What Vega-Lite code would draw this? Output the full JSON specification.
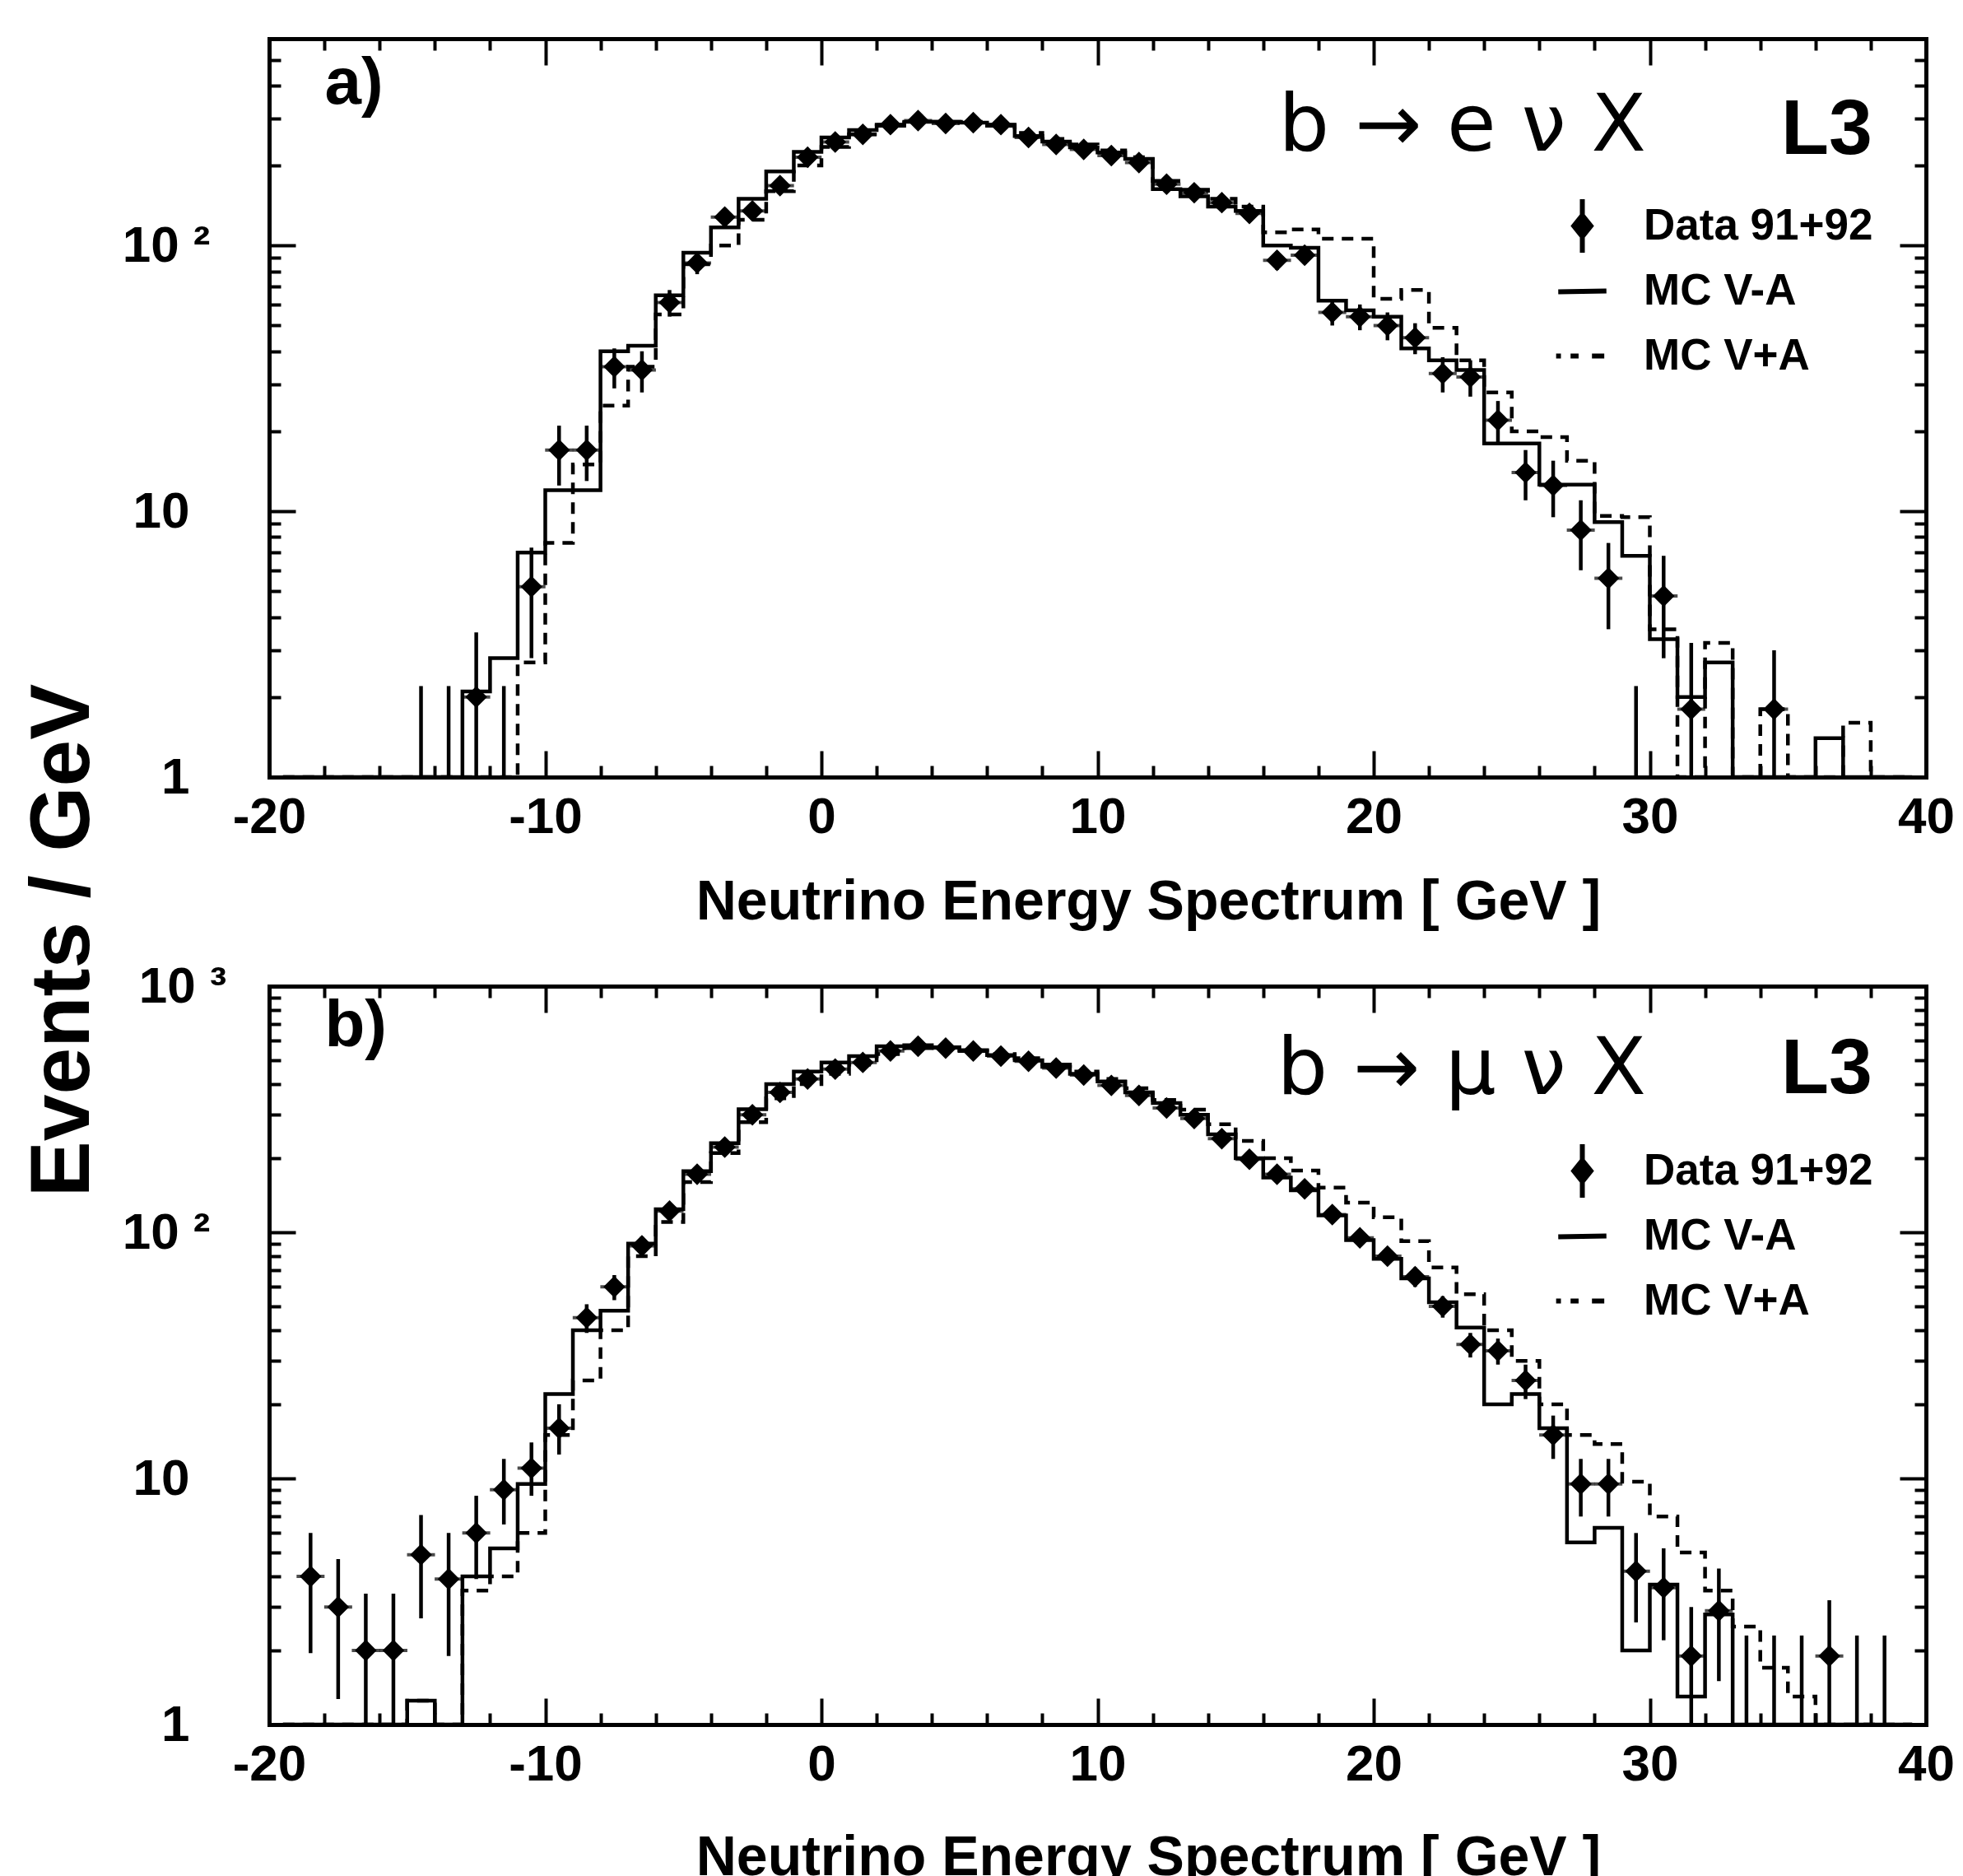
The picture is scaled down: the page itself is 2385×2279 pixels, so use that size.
{
  "$schema": "https://vega.github.io/schema/vega-lite/v6.json",
  "background": "white",
  "padding": {"left": 25, "top": 41, "right": 0, "bottom": 0},
  "bounds": "flush",
  "spacing": 254,
  "resolve": {"scale": {"shape": "independent"}, "legend": {"shape": "independent"}},
  "config": {
    "font": "Liberation Sans",
    "view": {"stroke": null},
    "axis": {
      "labelFont": "Liberation Sans", "labelFontWeight": "bold", "labelColor": "black", "labelFontSize": 62,
      "titleFont": "Liberation Sans", "titleFontWeight": "bold", "titleColor": "black",
      "domainColor": "black", "tickColor": "black", "grid": false,
      "labelOverlap": false, "labelBound": false, "labelFlush": false,
      "tickWidth": 4, "domainWidth": 5, "domainCap": "square"
    }
  },
  "datasets": {
    "leg": [{"s": "Data 91+92"}, {"s": "MC V-A"}, {"s": "MC V+A"}],
    "e": [
      {"E": -19.5, "va": 0.1, "vp": 0.1, "d": null, "dl": null, "dh": null},
      {"E": -18.5, "va": 0.1, "vp": 0.1, "d": null, "dl": null, "dh": null},
      {"E": -17.5, "va": 0.1, "vp": 0.1, "d": null, "dl": null, "dh": null},
      {"E": -16.5, "va": 0.1, "vp": 0.1, "d": null, "dl": null, "dh": null},
      {"E": -15.5, "va": 0.1, "vp": 0.1, "d": null, "dl": null, "dh": null},
      {"E": -14.5, "va": 0.1, "vp": 0.1, "d": 1, "dl": 0.1, "dh": 2.2},
      {"E": -13.5, "va": 0.1, "vp": 0.1, "d": 1, "dl": 0.1, "dh": 2.2},
      {"E": -12.5, "va": 2.1, "vp": 0.1, "d": 2.0, "dl": 0.1, "dh": 3.5},
      {"E": -11.5, "va": 2.8, "vp": 0.1, "d": 1, "dl": 0.1, "dh": 2.2},
      {"E": -10.5, "va": 7, "vp": 2.7, "d": 5.2, "dl": 2.8, "dh": 7.3},
      {"E": -9.5, "va": 12, "vp": 7.6, "d": 17, "dl": 12.5, "dh": 21},
      {"E": -8.5, "va": 12, "vp": 15, "d": 17, "dl": 13, "dh": 21},
      {"E": -7.5, "va": 40, "vp": 25, "d": 35, "dl": 29, "dh": 41},
      {"E": -6.5, "va": 42, "vp": 35, "d": 34, "dl": 28, "dh": 40},
      {"E": -5.5, "va": 65, "vp": 55, "d": 61, "dl": 54, "dh": 68},
      {"E": -4.5, "va": 94, "vp": 85, "d": 86, "dl": 78, "dh": 94},
      {"E": -3.5, "va": 117, "vp": 100, "d": 128, "dl": 118, "dh": 138},
      {"E": -2.5, "va": 150, "vp": 125, "d": 135, "dl": 125, "dh": 145},
      {"E": -1.5, "va": 190, "vp": 160, "d": 168, "dl": 158, "dh": 178},
      {"E": -0.5, "va": 225, "vp": 200, "d": 215, "dl": 204, "dh": 226},
      {"E": 0.5, "va": 255, "vp": 235, "d": 245, "dl": 234, "dh": 256},
      {"E": 1.5, "va": 272, "vp": 262, "d": 262, "dl": 251, "dh": 273},
      {"E": 2.5, "va": 285, "vp": 282, "d": 285, "dl": 273, "dh": 297},
      {"E": 3.5, "va": 292, "vp": 290, "d": 295, "dl": 283, "dh": 307},
      {"E": 4.5, "va": 292, "vp": 292, "d": 288, "dl": 276, "dh": 300},
      {"E": 5.5, "va": 290, "vp": 292, "d": 290, "dl": 278, "dh": 302},
      {"E": 6.5, "va": 285, "vp": 282, "d": 285, "dl": 273, "dh": 297},
      {"E": 7.5, "va": 258, "vp": 265, "d": 255, "dl": 244, "dh": 266},
      {"E": 8.5, "va": 246, "vp": 252, "d": 240, "dl": 229, "dh": 251},
      {"E": 9.5, "va": 234, "vp": 240, "d": 230, "dl": 219, "dh": 241},
      {"E": 10.5, "va": 224, "vp": 228, "d": 218, "dl": 207, "dh": 229},
      {"E": 11.5, "va": 212, "vp": 215, "d": 205, "dl": 195, "dh": 215},
      {"E": 12.5, "va": 163, "vp": 175, "d": 170, "dl": 161, "dh": 179},
      {"E": 13.5, "va": 153, "vp": 162, "d": 158, "dl": 149, "dh": 167},
      {"E": 14.5, "va": 140, "vp": 150, "d": 145, "dl": 137, "dh": 153},
      {"E": 15.5, "va": 135, "vp": 140, "d": 132, "dl": 124, "dh": 140},
      {"E": 16.5, "va": 100, "vp": 112, "d": 88, "dl": 81, "dh": 95},
      {"E": 17.5, "va": 98, "vp": 115, "d": 92, "dl": 85, "dh": 99},
      {"E": 18.5, "va": 62, "vp": 106, "d": 56, "dl": 50, "dh": 62},
      {"E": 19.5, "va": 57, "vp": 106, "d": 54, "dl": 48, "dh": 60},
      {"E": 20.5, "va": 54, "vp": 63, "d": 50, "dl": 44, "dh": 56},
      {"E": 21.5, "va": 41, "vp": 68, "d": 45, "dl": 39, "dh": 51},
      {"E": 22.5, "va": 37, "vp": 49, "d": 33, "dl": 28, "dh": 38},
      {"E": 23.5, "va": 34, "vp": 37, "d": 32, "dl": 27, "dh": 37},
      {"E": 24.5, "va": 18, "vp": 28, "d": 22, "dl": 18, "dh": 26},
      {"E": 25.5, "va": 18, "vp": 20, "d": 14, "dl": 11, "dh": 17},
      {"E": 26.5, "va": 12.6, "vp": 19, "d": 12.5, "dl": 9.5, "dh": 15.5},
      {"E": 27.5, "va": 12.6, "vp": 15.5, "d": 8.5, "dl": 6, "dh": 11},
      {"E": 28.5, "va": 9.1, "vp": 9.6, "d": 5.6, "dl": 3.6, "dh": 7.6},
      {"E": 29.5, "va": 6.8, "vp": 9.5, "d": 1, "dl": 0.1, "dh": 2.2},
      {"E": 30.5, "va": 3.3, "vp": 3.6, "d": 4.8, "dl": 2.8, "dh": 6.8},
      {"E": 31.5, "va": 2.0, "vp": 0.1, "d": 1.8, "dl": 0.5, "dh": 3.2},
      {"E": 32.5, "va": 2.7, "vp": 3.2, "d": null, "dl": null, "dh": null},
      {"E": 33.5, "va": 0.1, "vp": 0.1, "d": null, "dl": null, "dh": null},
      {"E": 34.5, "va": 0.1, "vp": 1.8, "d": 1.8, "dl": 0.5, "dh": 3.0},
      {"E": 35.5, "va": 0.1, "vp": 0.1, "d": null, "dl": null, "dh": null},
      {"E": 36.5, "va": 1.4, "vp": 0.1, "d": null, "dl": null, "dh": null},
      {"E": 37.5, "va": 0.1, "vp": 1.6, "d": null, "dl": null, "dh": null},
      {"E": 38.5, "va": 0.1, "vp": 0.1, "d": null, "dl": null, "dh": null},
      {"E": 39.5, "va": 0.1, "vp": 0.1, "d": null, "dl": null, "dh": null}
    ],
    "mu": [
      {"E": -19.5, "va": 0.1, "vp": 0.1, "d": null, "dl": null, "dh": null},
      {"E": -18.5, "va": 0.1, "vp": 0.1, "d": 4.0, "dl": 1.95, "dh": 6.0},
      {"E": -17.5, "va": 0.1, "vp": 0.1, "d": 3.0, "dl": 1.27, "dh": 4.7},
      {"E": -16.5, "va": 0.1, "vp": 0.1, "d": 2.0, "dl": 0.1, "dh": 3.4},
      {"E": -15.5, "va": 0.1, "vp": 0.1, "d": 2.0, "dl": 0.1, "dh": 3.4},
      {"E": -14.5, "va": 1.25, "vp": 1.25, "d": 4.9, "dl": 2.7, "dh": 7.1},
      {"E": -13.5, "va": 0.1, "vp": 0.1, "d": 3.9, "dl": 1.9, "dh": 6.0},
      {"E": -12.5, "va": 4.0, "vp": 3.5, "d": 6.0, "dl": 3.9, "dh": 8.5},
      {"E": -11.5, "va": 5.2, "vp": 4.0, "d": 9.0, "dl": 6.5, "dh": 12},
      {"E": -10.5, "va": 9.5, "vp": 6.0, "d": 11, "dl": 8.5, "dh": 14},
      {"E": -9.5, "va": 22, "vp": 15, "d": 16, "dl": 12.5, "dh": 20},
      {"E": -8.5, "va": 40, "vp": 25, "d": 45, "dl": 39, "dh": 51},
      {"E": -7.5, "va": 48, "vp": 40, "d": 60, "dl": 53, "dh": 67},
      {"E": -6.5, "va": 90, "vp": 80, "d": 88, "dl": 80, "dh": 96},
      {"E": -5.5, "va": 124, "vp": 110, "d": 122, "dl": 113, "dh": 131},
      {"E": -4.5, "va": 177, "vp": 160, "d": 172, "dl": 162, "dh": 182},
      {"E": -3.5, "va": 230, "vp": 210, "d": 222, "dl": 211, "dh": 233},
      {"E": -2.5, "va": 316, "vp": 280, "d": 300, "dl": 288, "dh": 312},
      {"E": -1.5, "va": 400, "vp": 350, "d": 370, "dl": 357, "dh": 383},
      {"E": -0.5, "va": 450, "vp": 400, "d": 420, "dl": 406, "dh": 434},
      {"E": 0.5, "va": 490, "vp": 440, "d": 460, "dl": 446, "dh": 474},
      {"E": 1.5, "va": 520, "vp": 480, "d": 490, "dl": 475, "dh": 505},
      {"E": 2.5, "va": 570, "vp": 530, "d": 545, "dl": 530, "dh": 560},
      {"E": 3.5, "va": 575, "vp": 560, "d": 570, "dl": 555, "dh": 585},
      {"E": 4.5, "va": 565, "vp": 565, "d": 560, "dl": 545, "dh": 575},
      {"E": 5.5, "va": 545, "vp": 550, "d": 545, "dl": 530, "dh": 560},
      {"E": 6.5, "va": 525, "vp": 530, "d": 520, "dl": 505, "dh": 535},
      {"E": 7.5, "va": 500, "vp": 510, "d": 495, "dl": 481, "dh": 509},
      {"E": 8.5, "va": 470, "vp": 480, "d": 465, "dl": 451, "dh": 479},
      {"E": 9.5, "va": 440, "vp": 450, "d": 435, "dl": 422, "dh": 448},
      {"E": 10.5, "va": 410, "vp": 420, "d": 395, "dl": 382, "dh": 408},
      {"E": 11.5, "va": 370, "vp": 385, "d": 360, "dl": 348, "dh": 372},
      {"E": 12.5, "va": 335, "vp": 345, "d": 320, "dl": 308, "dh": 332},
      {"E": 13.5, "va": 300, "vp": 315, "d": 290, "dl": 279, "dh": 301},
      {"E": 14.5, "va": 250, "vp": 275, "d": 240, "dl": 230, "dh": 250},
      {"E": 15.5, "va": 200, "vp": 235, "d": 198, "dl": 189, "dh": 207},
      {"E": 16.5, "va": 167, "vp": 200, "d": 172, "dl": 164, "dh": 180},
      {"E": 17.5, "va": 148, "vp": 178, "d": 150, "dl": 142, "dh": 158},
      {"E": 18.5, "va": 117, "vp": 152, "d": 118, "dl": 111, "dh": 125},
      {"E": 19.5, "va": 93, "vp": 132, "d": 95, "dl": 88, "dh": 102},
      {"E": 20.5, "va": 78, "vp": 115, "d": 80, "dl": 74, "dh": 86},
      {"E": 21.5, "va": 65, "vp": 92, "d": 66, "dl": 60, "dh": 72},
      {"E": 22.5, "va": 52, "vp": 72, "d": 50, "dl": 45, "dh": 55},
      {"E": 23.5, "va": 41, "vp": 56, "d": 35, "dl": 31, "dh": 39},
      {"E": 24.5, "va": 20, "vp": 40, "d": 33, "dl": 29, "dh": 37},
      {"E": 25.5, "va": 22, "vp": 30, "d": 25, "dl": 21, "dh": 29},
      {"E": 26.5, "va": 16, "vp": 20, "d": 15, "dl": 12, "dh": 18},
      {"E": 27.5, "va": 5.5, "vp": 15, "d": 9.5, "dl": 7, "dh": 12},
      {"E": 28.5, "va": 6.3, "vp": 13.8, "d": 9.5, "dl": 7, "dh": 12},
      {"E": 29.5, "va": 2.0, "vp": 9.7, "d": 4.2, "dl": 2.6, "dh": 6.0},
      {"E": 30.5, "va": 3.7, "vp": 7.0, "d": 3.6, "dl": 2.2, "dh": 5.2},
      {"E": 31.5, "va": 1.3, "vp": 5.0, "d": 1.9, "dl": 0.7, "dh": 3.0},
      {"E": 32.5, "va": 2.8, "vp": 3.5, "d": 2.9, "dl": 1.5, "dh": 4.3},
      {"E": 33.5, "va": 0.1, "vp": 2.5, "d": 1, "dl": 0.1, "dh": 2.3},
      {"E": 34.5, "va": 0.1, "vp": 1.7, "d": 1, "dl": 0.1, "dh": 2.3},
      {"E": 35.5, "va": 0.1, "vp": 1.3, "d": 1, "dl": 0.1, "dh": 2.3},
      {"E": 36.5, "va": 0.1, "vp": 0.1, "d": 1.9, "dl": 0.7, "dh": 3.2},
      {"E": 37.5, "va": 0.1, "vp": 0.1, "d": 1, "dl": 0.1, "dh": 2.3},
      {"E": 38.5, "va": 0.1, "vp": 0.1, "d": 1, "dl": 0.1, "dh": 2.3},
      {"E": 39.5, "va": 0.1, "vp": 0.1, "d": null, "dl": null, "dh": null}
    ]
  },
  "vconcat": [
    {
      "width": 2013,
      "height": 897,
      "data": {"name": "e"},
      "title": {"text": "b → e ν X", "orient": "top", "anchor": "end", "frame": "group", "offset": -238, "baseline": "alphabetic", "dx": -340, "font": "DejaVu Sans", "fontSize": 97, "fontWeight": "normal", "color": "black"},
      "resolve": {"axis": {"x": "independent", "y": "independent"}},
      "layer": [
        {
          "mark": {"type": "line", "interpolate": "step", "color": "black", "strokeWidth": 4.5},
          "encoding": {
            "x": {"field": "E", "type": "quantitative", "scale": {"domain": [-20, 40], "nice": false, "zero": false},
              "axis": {"orient": "bottom", "values": [-20,-18,-16,-14,-12,-10,-8,-6,-4,-2,0,2,4,6,8,10,12,14,16,18,20,22,24,26,28,30,32,34,36,38,40],
                "tickSize": {"condition": {"test": "datum.value % 10 == 0", "value": -32}, "value": -14},
                "labelExpr": "datum.value % 10 == 0 ? '' + datum.value : ''", "labelPadding": 50,
                "title": "Neutrino Energy Spectrum [ GeV ]", "titleFontSize": 68, "titleX": 1068, "titleY": 172, "titleBaseline": "alphabetic", "titleAlign": "center"}},
            "y": {"field": "va", "type": "quantitative", "scale": {"type": "log", "domain": [1, 600], "nice": false, "clamp": true},
              "axis": {"orient": "left", "values": [1,2,3,4,5,6,7,8,9,10,20,30,40,50,60,70,80,90,100,200,300,400,500],
                "tickSize": {"condition": {"test": "datum.value == 1 || datum.value == 10 || datum.value == 100 || datum.value == 1000", "value": -32}, "value": -14},
                "labelExpr": "datum.value == 1 ? '1' : datum.value == 10 ? '10' : datum.value == 100 ? '10 ²' : datum.value == 1000 ? '10 ³' : ''",
                "labelPadding": {"condition": [{"test": "datum.value == 1000", "value": 84}, {"test": "datum.value == 100", "value": 104}], "value": 129},
                "title": "Events / GeV", "titleFontSize": 102, "titleAngle": 270, "titleX": -220, "titleY": 1095, "titleBaseline": "alphabetic", "titleAlign": "center"}}
          }
        },
        {
          "mark": {"type": "line", "interpolate": "step", "color": "black", "strokeWidth": 4.5, "strokeDash": [14, 10]},
          "encoding": {
            "x": {"field": "E", "type": "quantitative", "axis": null},
            "y": {"field": "vp", "type": "quantitative", "axis": null}
          }
        },
        {
          "transform": [{"filter": "isValid(datum.d)"}],
          "mark": {"type": "rule", "color": "black", "strokeWidth": 4.5},
          "encoding": {
            "x": {"field": "E", "type": "quantitative", "axis": null},
            "y": {"field": "dl", "type": "quantitative", "axis": null},
            "y2": {"field": "dh"}
          }
        },
        {
          "transform": [{"filter": "datum.d > 1"}],
          "mark": {"type": "tick", "orient": "horizontal", "color": "black", "size": 34, "thickness": 4},
          "encoding": {
            "x": {"field": "E", "type": "quantitative", "axis": null},
            "y": {"field": "d", "type": "quantitative", "axis": null}
          }
        },
        {
          "transform": [{"filter": "datum.d > 1"}],
          "mark": {"type": "point", "shape": "diamond", "filled": true, "color": "black", "size": 700, "opacity": 1},
          "encoding": {
            "x": {"field": "E", "type": "quantitative", "axis": null},
            "y": {"field": "d", "type": "quantitative", "axis": null}
          }
        },
        {
          "data": {"name": "leg"},
          "mark": {"type": "point", "filled": false, "color": "black", "strokeWidth": 6, "opacity": 0},
          "encoding": {
            "shape": {"field": "s", "type": "nominal",
              "scale": {"domain": ["Data 91+92", "MC V-A", "MC V+A"], "range": ["M0,-1L0,1M0,-0.4L0.32,0L0,0.4L-0.32,0ZM0,-0.2L0.16,0L0,0.2L-0.16,0ZM-0.2,0L0.2,0", "M0,-1M0,1M-0.9,0.03L0.9,0", "M0,-1M0,1M-0.98,0L-0.8,0M-0.44,0L-0.14,0M0.36,0L0.82,0"]},
              "legend": {"orient": "none", "legendX": 1560, "legendY": 188, "title": null, "labelFont": "Liberation Sans", "labelFontWeight": "bold", "labelFontSize": 53, "labelColor": "black", "labelOffset": 39, "labelLimit": 600, "symbolSize": 4225, "symbolStrokeWidth": 6, "symbolStrokeColor": "black", "symbolFillColor": "transparent", "symbolOpacity": 1, "rowPadding": 0, "clipHeight": 79, "padding": 0}}
          }
        },
        {
          "mark": {"type": "point", "opacity": 0},
          "encoding": {
            "x": {"field": "E", "type": "quantitative",
              "axis": {"orient": "top", "values": [-20,-18,-16,-14,-12,-10,-8,-6,-4,-2,0,2,4,6,8,10,12,14,16,18,20,22,24,26,28,30,32,34,36,38,40],
                "tickSize": {"condition": {"test": "datum.value % 10 == 0", "value": -32}, "value": -14},
                "labels": false, "title": "L3", "titleFontSize": 95, "titleX": 1892, "titleY": 139, "titleBaseline": "alphabetic", "titleAlign": "center"}},
            "y": {"field": "va", "type": "quantitative",
              "axis": {"orient": "right", "values": [1,2,3,4,5,6,7,8,9,10,20,30,40,50,60,70,80,90,100,200,300,400,500],
                "tickSize": {"condition": {"test": "datum.value == 1 || datum.value == 10 || datum.value == 100 || datum.value == 1000", "value": -32}, "value": -14},
                "labels": false, "title": "a)", "titleFontSize": 80, "titleAngle": 0, "titleX": -1946, "titleY": 78, "titleAlign": "left", "titleBaseline": "alphabetic"}}
          }
        }
      ]
    },
    {
      "width": 2013,
      "height": 897,
      "data": {"name": "mu"},
      "title": {"text": "b → μ ν X", "orient": "top", "anchor": "end", "frame": "group", "offset": -259, "baseline": "alphabetic", "dx": -340, "font": "DejaVu Sans", "fontSize": 97, "fontWeight": "normal", "color": "black"},
      "resolve": {"axis": {"x": "independent", "y": "independent"}},
      "layer": [
        {
          "mark": {"type": "line", "interpolate": "step", "color": "black", "strokeWidth": 4.5},
          "encoding": {
            "x": {"field": "E", "type": "quantitative", "scale": {"domain": [-20, 40], "nice": false, "zero": false},
              "axis": {"orient": "bottom", "values": [-20,-18,-16,-14,-12,-10,-8,-6,-4,-2,0,2,4,6,8,10,12,14,16,18,20,22,24,26,28,30,32,34,36,38,40],
                "tickSize": {"condition": {"test": "datum.value % 10 == 0", "value": -32}, "value": -14},
                "labelExpr": "datum.value % 10 == 0 ? '' + datum.value : ''", "labelPadding": 50,
                "title": "Neutrino Energy Spectrum [ GeV ]", "titleFontSize": 68, "titleX": 1068, "titleY": 182, "titleBaseline": "alphabetic", "titleAlign": "center"}},
            "y": {"field": "va", "type": "quantitative", "scale": {"type": "log", "domain": [1, 1000], "nice": false, "clamp": true},
              "axis": {"orient": "left", "values": [1,2,3,4,5,6,7,8,9,10,20,30,40,50,60,70,80,90,100,200,300,400,500,600,700,800,900,1000],
                "tickSize": {"condition": {"test": "datum.value == 1 || datum.value == 10 || datum.value == 100 || datum.value == 1000", "value": -32}, "value": -14},
                "labelExpr": "datum.value == 1 ? '1' : datum.value == 10 ? '10' : datum.value == 100 ? '10 ²' : datum.value == 1000 ? '10 ³' : ''",
                "labelPadding": {"condition": [{"test": "datum.value == 1000", "value": 84}, {"test": "datum.value == 100", "value": 104}], "value": 129},
                "title": null}}
          }
        },
        {
          "mark": {"type": "line", "interpolate": "step", "color": "black", "strokeWidth": 4.5, "strokeDash": [14, 10]},
          "encoding": {
            "x": {"field": "E", "type": "quantitative", "axis": null},
            "y": {"field": "vp", "type": "quantitative", "axis": null}
          }
        },
        {
          "transform": [{"filter": "isValid(datum.d)"}],
          "mark": {"type": "rule", "color": "black", "strokeWidth": 4.5},
          "encoding": {
            "x": {"field": "E", "type": "quantitative", "axis": null},
            "y": {"field": "dl", "type": "quantitative", "axis": null},
            "y2": {"field": "dh"}
          }
        },
        {
          "transform": [{"filter": "datum.d > 1"}],
          "mark": {"type": "tick", "orient": "horizontal", "color": "black", "size": 34, "thickness": 4},
          "encoding": {
            "x": {"field": "E", "type": "quantitative", "axis": null},
            "y": {"field": "d", "type": "quantitative", "axis": null}
          }
        },
        {
          "transform": [{"filter": "datum.d > 1"}],
          "mark": {"type": "point", "shape": "diamond", "filled": true, "color": "black", "size": 700, "opacity": 1},
          "encoding": {
            "x": {"field": "E", "type": "quantitative", "axis": null},
            "y": {"field": "d", "type": "quantitative", "axis": null}
          }
        },
        {
          "data": {"name": "leg"},
          "mark": {"type": "point", "filled": false, "color": "black", "strokeWidth": 6, "opacity": 0},
          "encoding": {
            "shape": {"field": "s", "type": "nominal",
              "scale": {"domain": ["Data 91+92", "MC V-A", "MC V+A"], "range": ["M0,-1L0,1M0,-0.4L0.32,0L0,0.4L-0.32,0ZM0,-0.2L0.16,0L0,0.2L-0.16,0ZM-0.2,0L0.2,0", "M0,-1M0,1M-0.9,0.03L0.9,0", "M0,-1M0,1M-0.98,0L-0.8,0M-0.44,0L-0.14,0M0.36,0L0.82,0"]},
              "legend": {"orient": "none", "legendX": 1560, "legendY": 185, "title": null, "labelFont": "Liberation Sans", "labelFontWeight": "bold", "labelFontSize": 53, "labelColor": "black", "labelOffset": 39, "labelLimit": 600, "symbolSize": 4225, "symbolStrokeWidth": 6, "symbolStrokeColor": "black", "symbolFillColor": "transparent", "symbolOpacity": 1, "rowPadding": 0, "clipHeight": 79, "padding": 0}}
          }
        },
        {
          "mark": {"type": "point", "opacity": 0},
          "encoding": {
            "x": {"field": "E", "type": "quantitative",
              "axis": {"orient": "top", "values": [-20,-18,-16,-14,-12,-10,-8,-6,-4,-2,0,2,4,6,8,10,12,14,16,18,20,22,24,26,28,30,32,34,36,38,40],
                "tickSize": {"condition": {"test": "datum.value % 10 == 0", "value": -32}, "value": -14},
                "labels": false, "title": "L3", "titleFontSize": 95, "titleX": 1892, "titleY": 129, "titleBaseline": "alphabetic", "titleAlign": "center"}},
            "y": {"field": "va", "type": "quantitative",
              "axis": {"orient": "right", "values": [1,2,3,4,5,6,7,8,9,10,20,30,40,50,60,70,80,90,100,200,300,400,500,600,700,800,900,1000],
                "tickSize": {"condition": {"test": "datum.value == 1 || datum.value == 10 || datum.value == 100 || datum.value == 1000", "value": -32}, "value": -14},
                "labels": false, "title": "b)", "titleFontSize": 80, "titleAngle": 0, "titleX": -1946, "titleY": 72, "titleAlign": "left", "titleBaseline": "alphabetic"}}
          }
        }
      ]
    }
  ]
}
